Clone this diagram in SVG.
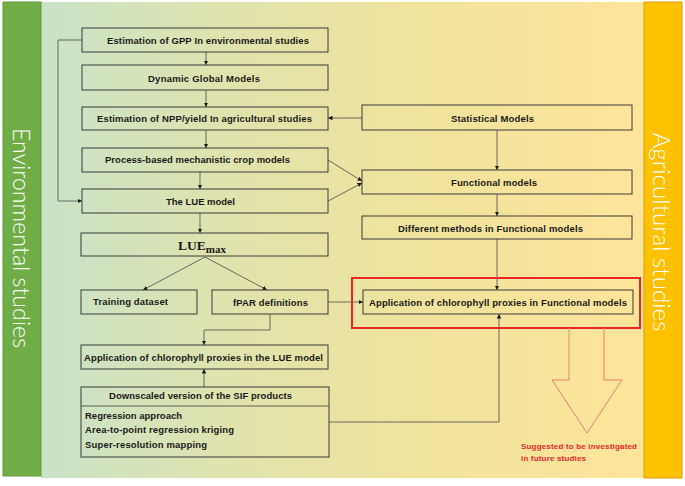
<svg xmlns="http://www.w3.org/2000/svg" width="685" height="486" viewBox="0 0 685 486">
<defs>
<linearGradient id="bg" x1="0" y1="0" x2="1" y2="0">
<stop offset="0" stop-color="#c9e3c8"/>
<stop offset="0.3" stop-color="#dfe3ae"/>
<stop offset="0.6" stop-color="#efe39d"/>
<stop offset="1" stop-color="#fee49a"/>
</linearGradient>
<marker id="ah" markerUnits="userSpaceOnUse" markerWidth="6" markerHeight="6" refX="4.5" refY="2.25" orient="auto">
<path d="M0,0 L4.5,2.25 L0,4.5 z" fill="#1a1a1a"/>
</marker>
<style>
.box{fill:none;stroke:#3a3a3a;stroke-width:1}
.t{font-family:"Liberation Sans",Arial,sans-serif;font-weight:bold;font-size:9.5px;fill:#1a1a1a}
.c{fill:none;stroke:#5a5a5a;stroke-width:0.9;marker-end:url(#ah)}
.band{font-family:Lato,"Open Sans","Liberation Sans",sans-serif;font-weight:300;font-size:24px;fill:#ffffff}
</style>
</defs>
<rect x="41" y="2" width="604" height="476" fill="url(#bg)"/>
<g id="band-env">
<rect x="3" y="2" width="38" height="474" fill="#70ad47" stroke="#5e9a3a" stroke-width="1"/>
<text class="band" transform="translate(22,238) rotate(90)" text-anchor="middle" dominant-baseline="central" textLength="220" lengthAdjust="spacingAndGlyphs">Environmental studies</text>
</g>
<g id="band-agri">
<rect x="644" y="2" width="38" height="476" fill="#ffc000" stroke="#d6a200" stroke-width="1"/>
<text class="band" transform="translate(662,232) rotate(90)" text-anchor="middle" dominant-baseline="central" textLength="199" lengthAdjust="spacingAndGlyphs">Agricultural studies</text>
</g>
<g id="connectors">
<path class="c" d="M82,40 H58 V201 H82"/>
<path class="c" d="M206,52 V65"/>
<path class="c" d="M206,90 V107"/>
<path class="c" d="M206,130 V148"/>
<path class="c" d="M200,172 V189"/>
<path class="c" d="M200,213 V233"/>
<path class="c" d="M362,118 H328"/>
<path class="c" d="M497,130 V170"/>
<path class="c" d="M328,160 L362,181"/>
<path class="c" d="M328,201 L362,183"/>
<path class="c" d="M497,194 V216"/>
<path class="c" d="M497,239 V290"/>
<path class="c" d="M328,302 H363"/>
<path class="c" d="M329,422 H499 V314"/>
<path class="c" d="M270,314 V330 H204 V345"/>
<path class="c" d="M204,387 V369"/>
<path class="c" d="M205,257 L143,290"/>
<path class="c" d="M205,257 L267,290"/>
</g>
<g id="gpp"><rect class="box" x="82" y="28" width="246" height="24"/><text class="t" x="208" y="43.5" text-anchor="middle" textLength="202">Estimation of GPP In environmental studies</text></g>
<g id="dgm"><rect class="box" x="82" y="65" width="246" height="25"/><text class="t" x="204" y="81.5" text-anchor="middle" textLength="112">Dynamic Global Models</text></g>
<g id="npp"><rect class="box" x="82" y="107" width="246" height="23"/><text class="t" x="204.5" y="122" text-anchor="middle" textLength="215">Estimation of NPP/yield In agricultural studies</text></g>
<g id="process"><rect class="box" x="82" y="148" width="246" height="24"/><text class="t" x="197.5" y="163" text-anchor="middle" textLength="185">Process-based mechanistic crop models</text></g>
<g id="lue"><rect class="box" x="82" y="189" width="246" height="24"/><text class="t" x="200.5" y="204.5" text-anchor="middle" textLength="69">The LUE model</text></g>
<g id="luemax"><rect class="box" x="81" y="233" width="247" height="23"/><text x="202" y="249.5" text-anchor="middle" font-family="Liberation Serif,'Times New Roman',serif" font-weight="bold" font-size="13.5" fill="#1a1a1a">LUE<tspan font-size="11" dy="3">max</tspan></text></g>
<g id="training"><rect class="box" x="81" y="290" width="116" height="24"/><text class="t" x="93" y="304.5" textLength="75">Training dataset</text></g>
<g id="fpar"><rect class="box" x="212" y="290" width="116" height="24"/><text class="t" x="270.5" y="306" text-anchor="middle" textLength="75">fPAR definitions</text></g>
<g id="app-lue"><rect class="box" x="81" y="345" width="247" height="24"/><text class="t" x="203.5" y="361" text-anchor="middle" textLength="239">Application of chlorophyll proxies in the LUE model</text></g>
<g id="downscaled"><rect class="box" x="81" y="387" width="248" height="70"/><line x1="81" y1="406" x2="329" y2="406" stroke="#3a3a3a" stroke-width="0.8"/>
<text class="t" x="200.5" y="398.5" text-anchor="middle" textLength="183">Downscaled version of the SIF products</text>
<text class="t" x="85" y="418.5" textLength="97">Regression approach</text>
<text class="t" x="85" y="432.5" textLength="149">Area-to-point regression kriging</text>
<text class="t" x="85" y="447.5" textLength="122">Super-resolution mapping</text></g>
<g id="statistical"><rect class="box" x="362" y="105" width="270" height="25"/><text class="t" x="492.5" y="122" text-anchor="middle" textLength="83">Statistical Models</text></g>
<g id="functional"><rect class="box" x="362" y="170" width="270" height="24"/><text class="t" x="494" y="185.5" text-anchor="middle" textLength="86">Functional models</text></g>
<g id="different"><rect class="box" x="362" y="216" width="270" height="23"/><text class="t" x="490.5" y="231.5" text-anchor="middle" textLength="185">Different methods in Functional models</text></g>
<g id="app-func"><rect x="352" y="278" width="288" height="50" fill="none" stroke="#e8262c" stroke-width="2"/><rect class="box" x="363" y="290" width="270" height="24"/><text class="t" x="498" y="306" text-anchor="middle" textLength="258">Application of chlorophyll proxies in Functional models</text></g>
<g id="future"><polyline points="569,328 569,380 552,380 587,433 622,380 604,380 604,328" fill="none" stroke="#e8806a" stroke-width="1"/>
<text x="521" y="449" font-family="Liberation Sans,Arial,sans-serif" font-weight="bold" font-size="8" fill="#e8262c" textLength="116">Suggested to be investigated</text>
<text x="521" y="461" font-family="Liberation Sans,Arial,sans-serif" font-weight="bold" font-size="8" fill="#e8262c" textLength="65">in future studies</text></g>
</svg>
